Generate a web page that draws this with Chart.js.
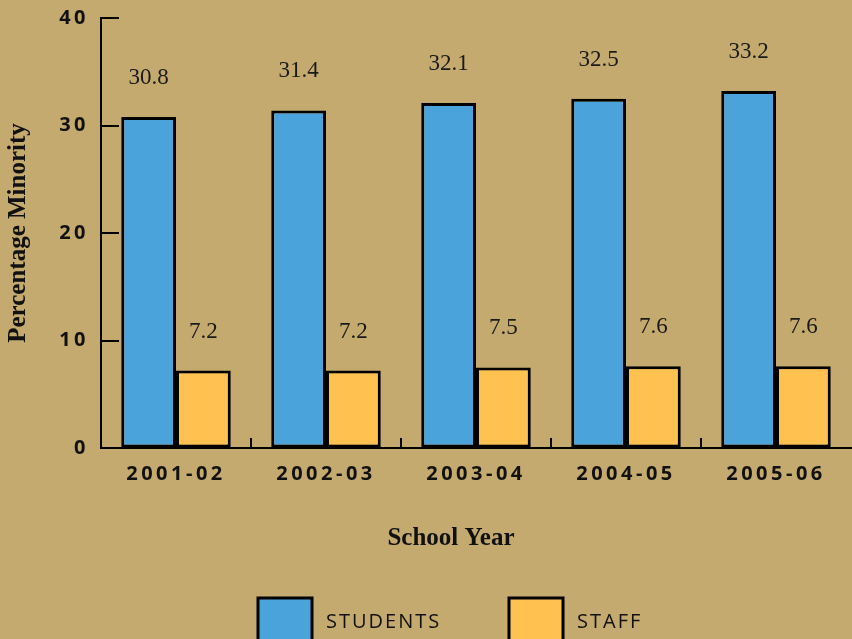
<!DOCTYPE html>
<html><head><meta charset="utf-8">
<script src="https://cdn.jsdelivr.net/npm/chart.js@4/dist/chart.umd.min.js"></script>
<style>html,body{margin:0;padding:0;background:#C4AA6E;overflow:hidden}canvas{display:block}</style>
</head><body>
<canvas id="c" width="852" height="639"></canvas>
<script>
const categories = ['2001-02', '2002-03', '2003-04', '2004-05', '2005-06'];
const studentValues = [30.8, 31.4, 32.1, 32.5, 33.2];
const staffValues = [7.2, 7.2, 7.5, 7.6, 7.6];
const yTickValues = [0, 10, 20, 30, 40];
const seriesNames = ['STUDENTS', 'STAFF'];
const xTitle = 'School Year';
const yTitle = 'Percentage Minority';

const BG = '#C4AA6E', BLUE = '#4BA3DB', ORANGE = '#FFC14F', INK = '#000';
const SANS = '"Open Sans", sans-serif';
const SERIF = '"Liberation Serif", "DejaVu Serif", serif';

const spacing = {
  id: 'spacing',
  beforeLayout(chart) { chart.ctx.letterSpacing = '3.5px'; },
  beforeDraw(chart) {
    const ctx = chart.ctx;
    ctx.save();
    ctx.fillStyle = BG;
    ctx.fillRect(0, 0, chart.width, chart.height);
    ctx.restore();
    ctx.letterSpacing = '3.5px';
  }
};

const decor = {
  id: 'decor',
  afterDatasetsDraw(chart) {
    const ctx = chart.ctx;
    ctx.save();
    ctx.letterSpacing = '0px';
    ctx.fillStyle = '#1a1a1a';
    ctx.font = '23px ' + SERIF;
    ctx.textAlign = 'center';
    ctx.textBaseline = 'middle';
    chart.data.datasets.forEach((ds, di) => {
      chart.getDatasetMeta(di).data.forEach((bar, i) => {
        ctx.fillText(ds.data[i].toFixed(1), bar.x, bar.y - 39);
      });
    });
    ctx.restore();
  },
  afterDraw(chart) {
    const ctx = chart.ctx;
    const {left, right, top, bottom} = chart.chartArea;
    const xs = chart.scales.x, ys = chart.scales.y;
    ctx.save();
    ctx.letterSpacing = '0px';
    ctx.strokeStyle = INK;
    ctx.lineWidth = 2;
    yTickValues.forEach(v => {
      const y = Math.round(ys.getPixelForValue(v));
      ctx.beginPath(); ctx.moveTo(left, y); ctx.lineTo(left + 18, y); ctx.stroke();
    });
    for (let i = 1; i < categories.length; i++) {
      const x = Math.round((xs.getPixelForValue(i - 1) + xs.getPixelForValue(i)) / 2);
      ctx.beginPath(); ctx.moveTo(x, bottom); ctx.lineTo(x, bottom - 10); ctx.stroke();
    }
    ctx.fillStyle = '#111';
    ctx.font = 'bold 25px ' + SERIF;
    ctx.textAlign = 'center';
    ctx.textBaseline = 'middle';
    ctx.fillText(xTitle, 451, 539);
    ctx.save();
    ctx.translate(19, 233);
    ctx.rotate(-Math.PI / 2);
    ctx.fillText(yTitle, 0, 0);
    ctx.restore();
    const items = [
      {label: seriesNames[0], color: BLUE, x: 258},
      {label: seriesNames[1], color: ORANGE, x: 509}
    ];
    ctx.letterSpacing = '2px';
    ctx.font = '20px ' + SANS;
    ctx.textAlign = 'left';
    items.forEach(it => {
      ctx.fillStyle = it.color;
      ctx.fillRect(it.x, 598, 54, 60);
      ctx.lineWidth = 3;
      ctx.strokeRect(it.x, 598, 54, 60);
      ctx.fillStyle = '#111';
      ctx.fillText(it.label, it.x + 68, 622);
    });
    ctx.restore();
  }
};

new Chart(document.getElementById('c'), {
  type: 'bar',
  data: {
    labels: categories,
    datasets: [
      {label: seriesNames[0], data: studentValues, backgroundColor: BLUE, borderColor: INK, borderWidth: 3, borderSkipped: false},
      {label: seriesNames[1], data: staffValues, backgroundColor: ORANGE, borderColor: INK, borderWidth: 3, borderSkipped: false}
    ]
  },
  options: {
    responsive: false,
    animation: false,
    devicePixelRatio: 1,
    categoryPercentage: 0.73,
    barPercentage: 1.0,
    layout: {padding: {top: 18, right: 1, left: 0, bottom: 0}},
    plugins: {legend: {display: false}, tooltip: {enabled: false}},
    scales: {
      x: {
        grid: {display: true, color: 'transparent', drawTicks: false, drawOnChartArea: false},
        border: {display: true, color: INK, width: 2},
        ticks: {color: '#111', font: {family: SANS, size: 20, weight: 'bold'}, padding: 14, maxRotation: 0},
        afterFit(s) { s.height = 191; s.paddingLeft = 0; s.paddingRight = 0; }
      },
      y: {
        min: 0, max: 40,
        afterBuildTicks(s) { s.ticks = yTickValues.map(v => ({value: v})); },
        grid: {display: true, color: 'transparent', drawTicks: false, drawOnChartArea: false},
        border: {display: true, color: INK, width: 2},
        ticks: {color: '#111', font: {family: SANS, size: 20, weight: 'bold'}, padding: 12},
        afterFit(s) { s.width = 101; s.paddingTop = 0; s.paddingBottom = 0; }
      }
    }
  },
  plugins: [spacing, decor]
});
</script>
</body></html>
